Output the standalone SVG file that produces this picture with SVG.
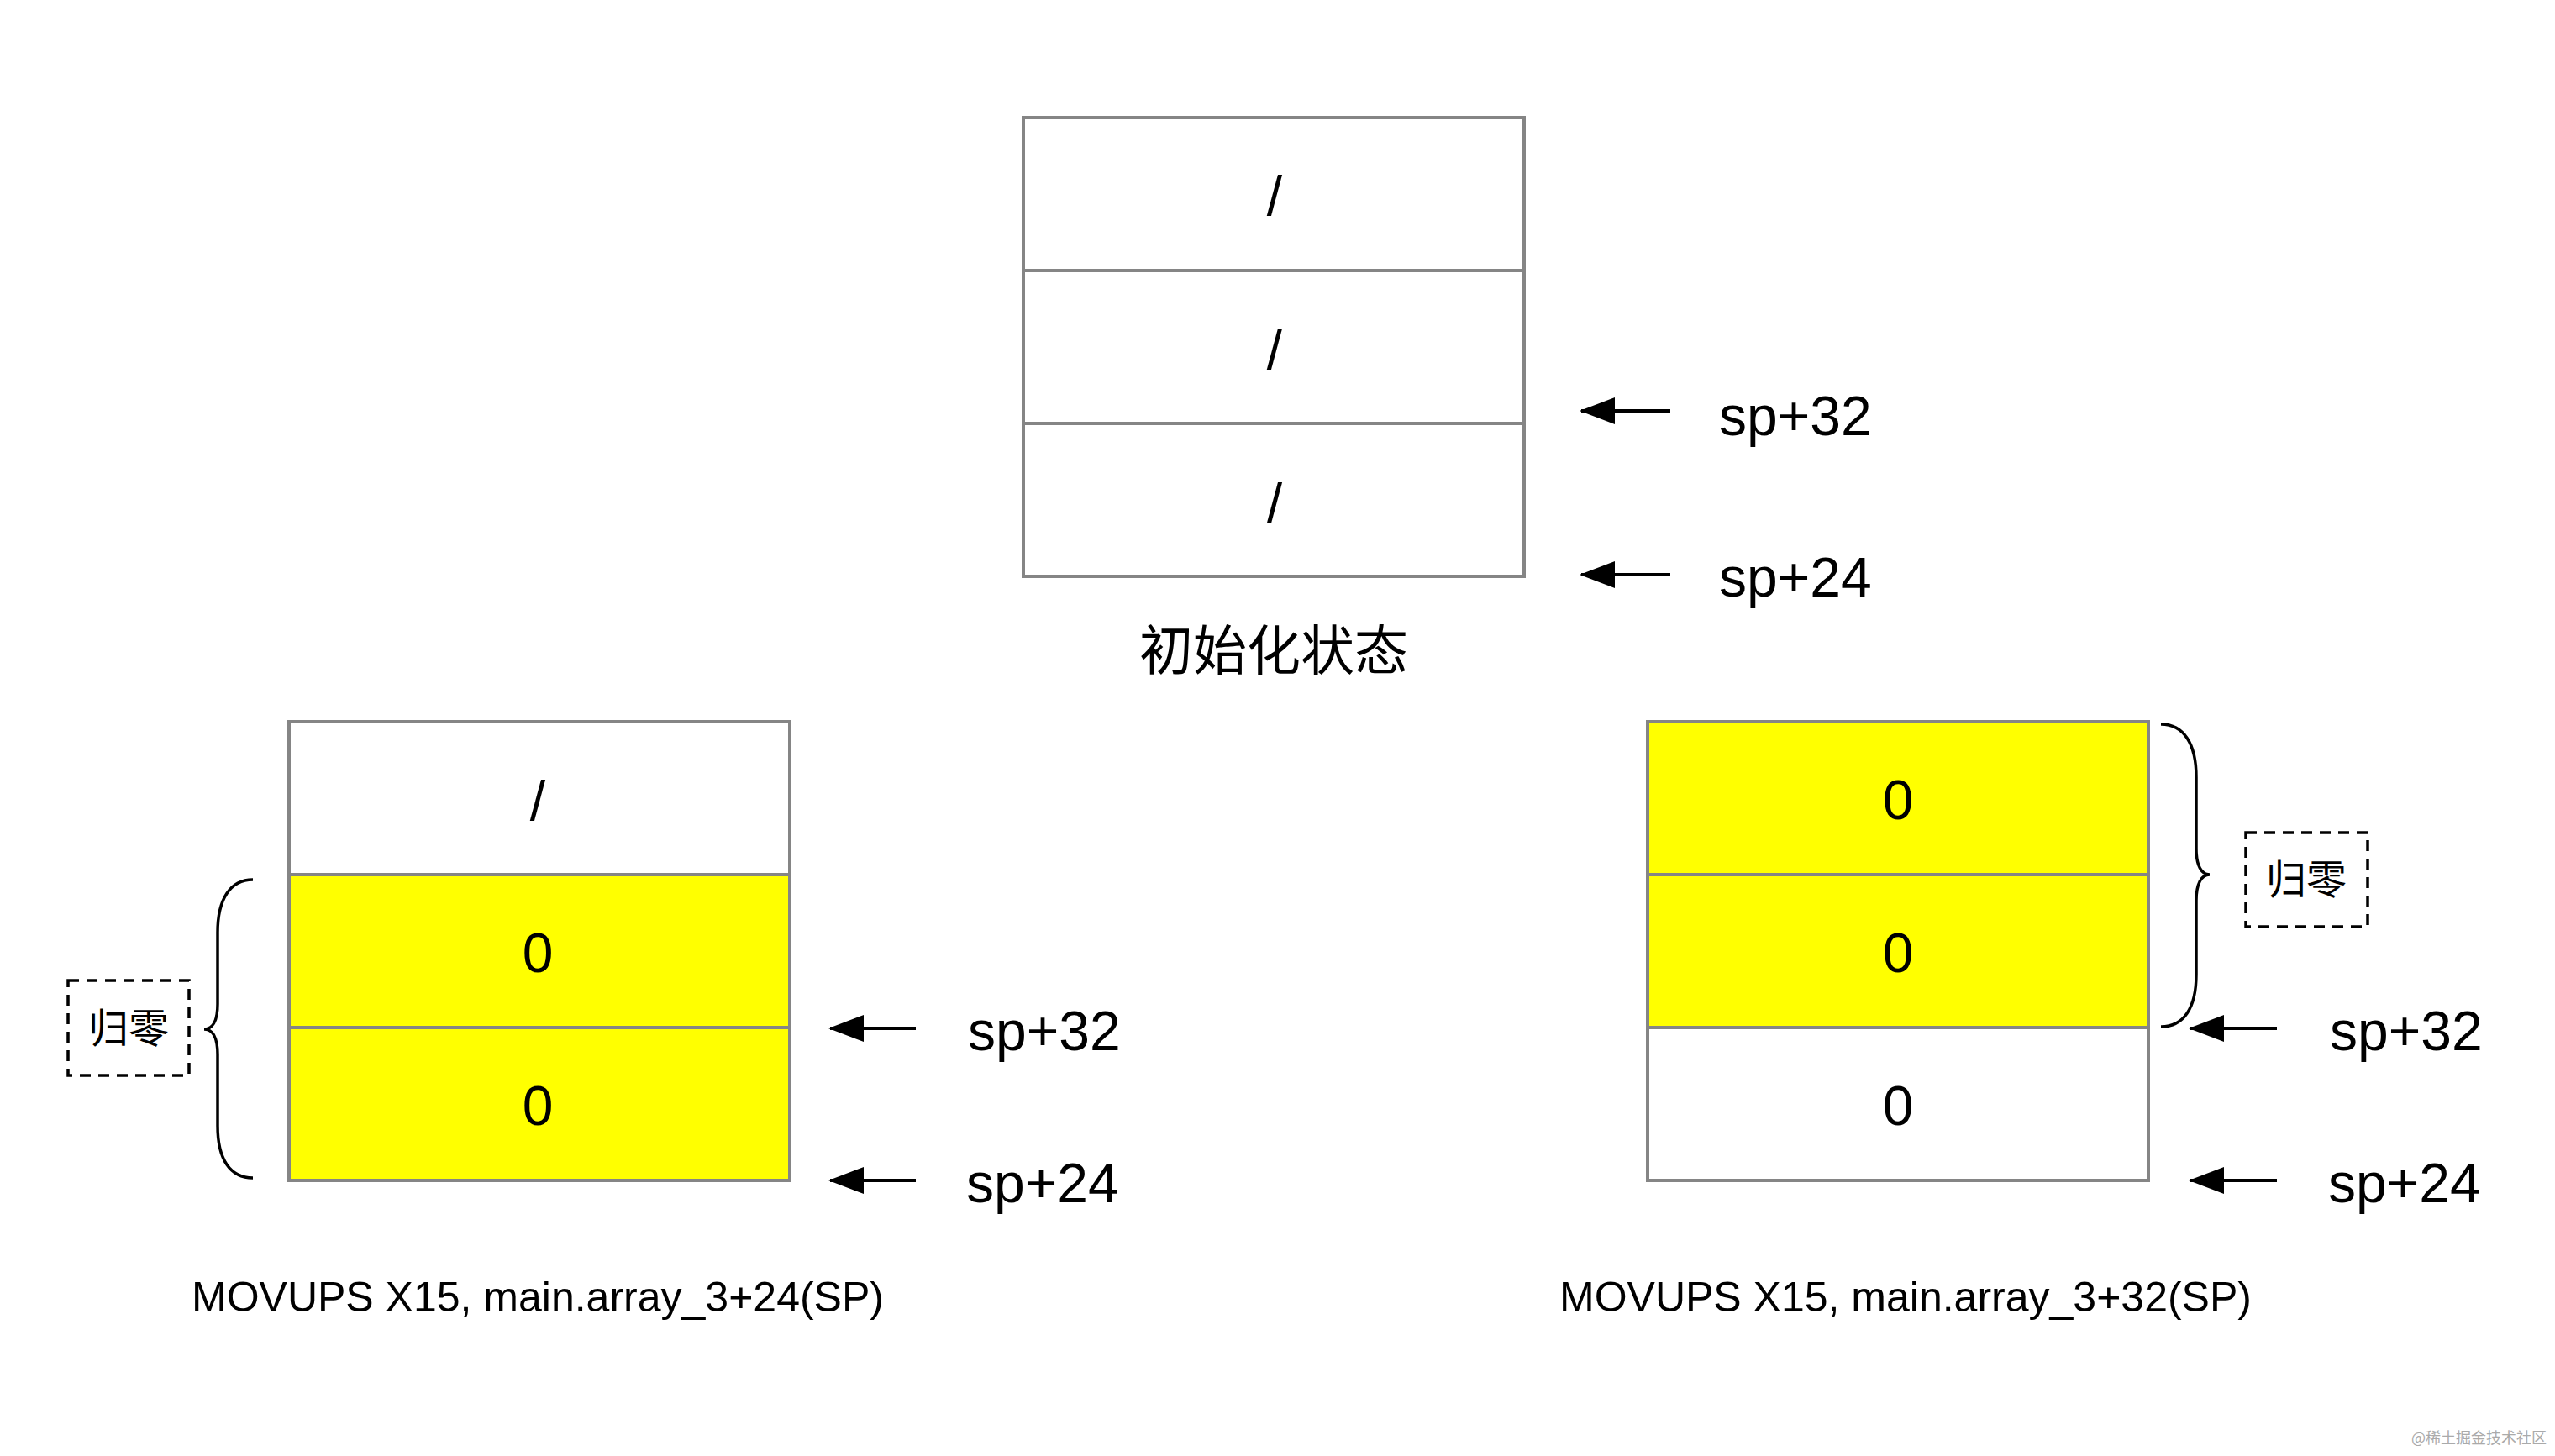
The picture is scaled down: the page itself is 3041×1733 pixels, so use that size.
<svg xmlns="http://www.w3.org/2000/svg" width="3041" height="1733" viewBox="0 0 3041 1733">
<style>
.cell{stroke:#858585;stroke-width:4}
.w{fill:#ffffff}
.y{fill:#ffff00}
.t{font-family:"Liberation Sans",Arial,sans-serif;font-size:66px;fill:#000;text-anchor:middle}
.lbl{font-family:"Liberation Sans",Arial,sans-serif;font-size:66px;fill:#000}
.cap{font-family:"Liberation Sans",Arial,sans-serif;font-size:50px;fill:#000}
.cjk{font-family:"Noto Sans CJK SC","Liberation Sans",sans-serif;fill:#000;text-anchor:middle}
.arr{stroke:#000;stroke-width:4;fill:none;marker-end:url(#ah)}
.brace{stroke:#000;stroke-width:3.5;fill:none}
.dash{fill:#fff;stroke:#000;stroke-width:3.5;stroke-dasharray:13 9}
</style>
<defs>
<marker id="ah" markerWidth="42" markerHeight="32" refX="40" refY="16" orient="auto" markerUnits="userSpaceOnUse" viewBox="0 0 42 32">
<path d="M0,0 L42,16 L0,32 Z" fill="#000"/>
</marker>
</defs>
<rect width="3041" height="1733" fill="#fff"/>
<g id="top-stack">
<rect class="cell w" x="1218" y="140" width="596" height="182"/>
<rect class="cell w" x="1218" y="322" width="596" height="182"/>
<rect class="cell w" x="1218" y="504" width="596" height="182"/>
<text class="t" x="1517" y="256" font-size="84">/</text>
<text class="t" x="1517" y="439" font-size="72">/</text>
<text class="t" x="1517" y="622" font-size="72">/</text>
<text class="cjk" x="1516" y="797" font-size="64">初始化状态</text>
</g>
<g id="left-stack">
<rect class="cell w" x="344" y="859" width="596" height="182"/>
<rect class="cell y" x="344" y="1041" width="596" height="182"/>
<rect class="cell y" x="344" y="1223" width="596" height="182"/>
<text class="t" x="640" y="976" font-size="84">/</text>
<text class="t" x="640" y="1157">0</text>
<text class="t" x="640" y="1339">0</text>
</g>
<g id="right-stack">
<rect class="cell y" x="1961" y="859" width="596" height="182"/>
<rect class="cell y" x="1961" y="1041" width="596" height="182"/>
<rect class="cell w" x="1961" y="1223" width="596" height="182"/>
<text class="t" x="2259" y="975">0</text>
<text class="t" x="2259" y="1157">0</text>
<text class="t" x="2259" y="1339">0</text>
</g>
<g id="left-zero">
<path class="brace" d="M301,1047 C274,1047 259,1070 259,1110 L259,1195 C259,1215 253,1225 243,1225 C253,1225 259,1235 259,1255 L259,1340 C259,1380 274,1402 301,1402"/>
<rect class="dash" x="81" y="1167" width="144" height="113"/>
<text class="cjk" x="153" y="1241" font-size="48">归零</text>
</g>
<g id="right-zero">
<path class="brace" d="M2572,862 C2599,862 2614,885 2614,925 L2614,1010 C2614,1030 2620,1041 2630,1041 C2620,1041 2614,1052 2614,1072 L2614,1160 C2614,1200 2599,1222 2572,1222"/>
<rect class="dash" x="2673" y="991" width="145" height="112"/>
<text class="cjk" x="2745" y="1064" font-size="48">归零</text>
</g>
<g id="connectors">
<line class="arr" x1="1988" y1="489" x2="1882" y2="489"/>
<line class="arr" x1="1988" y1="684" x2="1882" y2="684"/>
<line class="arr" x1="1090" y1="1224" x2="988" y2="1224"/>
<line class="arr" x1="1090" y1="1405" x2="988" y2="1405"/>
<line class="arr" x1="2710" y1="1224" x2="2607" y2="1224"/>
<line class="arr" x1="2710" y1="1405" x2="2607" y2="1405"/>
</g>
<g id="labels">
<text class="lbl" x="2046" y="518">sp+32</text>
<text class="lbl" x="2046" y="710">sp+24</text>
<text class="lbl" x="1152" y="1250">sp+32</text>
<text class="lbl" x="1150" y="1431">sp+24</text>
<text class="lbl" x="2773" y="1250">sp+32</text>
<text class="lbl" x="2771" y="1431">sp+24</text>
<text class="cap" x="228" y="1561">MOVUPS X15, main.array_3+24(SP)</text>
<text class="cap" x="1856" y="1561">MOVUPS X15, main.array_3+32(SP)</text>
<text x="2870" y="1718" font-family="Noto Sans CJK SC,sans-serif" font-size="18" fill="#aaaaaa">@稀土掘金技术社区</text>
</g>
</svg>
